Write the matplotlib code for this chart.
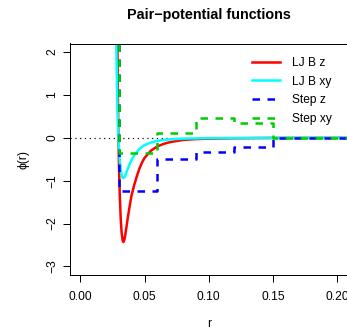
import matplotlib
matplotlib.use("Agg")
import matplotlib.pyplot as plt
import numpy as np

plt.rcParams['font.family'] = ['Liberation Sans', 'DejaVu Sans']

# LJ B z
r_z = [0.0283, 0.0285, 0.0288, 0.0292, 0.0297, 0.0302, 0.0308, 0.0315, 0.0322,
       0.0330, 0.0336, 0.0343, 0.0350, 0.0360, 0.0370, 0.0385, 0.0400, 0.0420,
       0.0440, 0.0460, 0.0480, 0.0500, 0.0550, 0.0600, 0.0650, 0.0700, 0.0800,
       0.0900, 0.1000, 0.1200, 0.1500, 0.2100]
phi_z = [4.40, 3.50, 2.39, 1.16, 0.00, -0.75, -1.40, -1.90, -2.22,
         -2.40, -2.43, -2.38, -2.27, -2.07, -1.86, -1.58, -1.33, -1.10,
         -0.90, -0.72, -0.58, -0.47, -0.30, -0.20, -0.14, -0.10, -0.05,
         -0.03, -0.02, -0.01, -0.003, 0.0]

# LJ B xy
r_xy = [0.0278, 0.0280, 0.0284, 0.0288, 0.0292, 0.0297, 0.0302, 0.0308, 0.0315,
        0.0322, 0.0330, 0.0336, 0.0343, 0.0350, 0.0360, 0.0370, 0.0385, 0.0400,
        0.0420, 0.0440, 0.0460, 0.0480, 0.0500, 0.0550, 0.0600, 0.0650, 0.0700,
        0.0800, 0.1000, 0.1500, 0.2100]
phi_xy = [2.75, 2.29, 1.53, 0.93, 0.45, 0.00, -0.30, -0.55, -0.75,
          -0.87, -0.93, -0.94, -0.92, -0.88, -0.80, -0.72, -0.61, -0.51,
          -0.41, -0.33, -0.26, -0.21, -0.17, -0.11, -0.07, -0.05, -0.035,
          -0.02, -0.008, -0.001, 0.0]

# step potentials
r_step = [0.00, 0.03, 0.06, 0.09, 0.12, 0.15, 0.21]
step_z = [10.0, -1.25, -0.50, -0.33, -0.21, 0.0, 0.0]
step_xy = [10.0, -0.35, 0.12, 0.46, 0.34, 0.0, 0.0]

labels = ["LJ B z", "LJ B xy", "Step z", "Step xy"]
colors = ["#FF0000", "#00FFFF", "#0000FF", "#00CD00"]

W, H = 347, 331
fig = plt.figure(figsize=(W / 72, H / 72), dpi=72)
ax = fig.add_axes([70 / W, 1 - 275 / H, 277.5 / W, 231.5 / H])

ax.axhline(0, color="black", lw=1.2, linestyle=(0, (1, 3)))
ax.plot(r_z, phi_z, color=colors[0], lw=2.5, label=labels[0])
ax.plot(r_xy, phi_xy, color=colors[1], lw=2.5, label=labels[1])
ax.step(r_step, step_z, where="post", color=colors[2], lw=2.5,
        dashes=(3, 3), label=labels[2])
ax.step(r_step, step_xy, where="post", color=colors[3], lw=2.5,
        dashes=(3, 3), label=labels[3])

ax.set_xlim(-0.008, 0.208)
ax.set_ylim(-3.2, 2.2)
ax.set_xticks([0.0, 0.05, 0.10, 0.15, 0.20])
ax.set_xticklabels(["0.00", "0.05", "0.10", "0.15", "0.20"])
ax.set_yticks([-3, -2, -1, 0, 1, 2])
ax.set_yticklabels(["\u22123", "\u22122", "\u22121", "0", "1", "2"], rotation=90,
                   va="center")
ax.tick_params(axis="both", labelsize=12, length=7, width=1, color="black")
ax.tick_params(axis="x", pad=9)
ax.tick_params(axis="y", pad=5)
for s in ax.spines.values():
    s.set_linewidth(1)

ax.set_xlabel("r", fontsize=12, labelpad=15)
ax.set_ylabel("\u03d5(r)", fontsize=12, labelpad=17)
fig.text(208.5 / W, 1 - 15 / H, "Pair\u2212potential functions", fontsize=14.4,
         fontweight="bold", ha="center", va="center")

leg = ax.legend(loc="upper left", bbox_to_anchor=(252 / W, 1 - 57 / H),
                bbox_transform=fig.transFigure, frameon=False, fontsize=12,
                handlelength=2.3, handletextpad=1.0, labelspacing=0.55,
                borderpad=0, borderaxespad=0)

fig.savefig("out.png", dpi=72)
